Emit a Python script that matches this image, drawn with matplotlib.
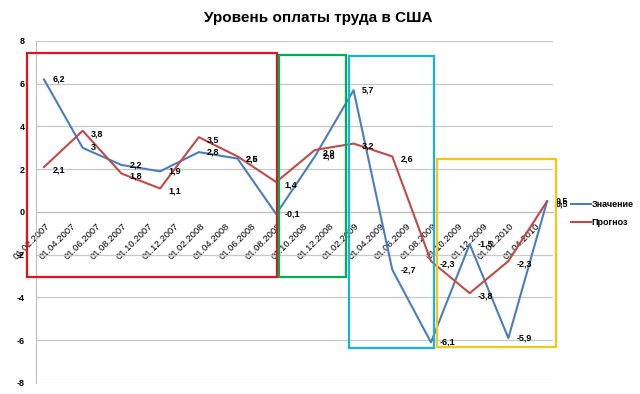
import matplotlib
matplotlib.use("Agg")
import matplotlib.pyplot as plt
from matplotlib.patches import Rectangle
from matplotlib.transforms import ScaledTranslation

plt.rcParams['font.family'] = ['Liberation Sans', 'DejaVu Sans']

title = "Уровень оплаты труда в США"
series_names = ["Значение", "Прогноз"]
# observation dates (quarterly)
dates = ["01.02.2007", "01.05.2007", "01.08.2007", "01.11.2007",
         "01.02.2008", "01.05.2008", "01.08.2008", "01.11.2008",
         "01.02.2009", "01.05.2009", "01.08.2009", "01.11.2009",
         "01.02.2010", "01.05.2010"]
values = [6.2, 3, 2.2, 1.9, 2.8, 2.5, -0.1, 2.6, 5.7, -2.7, -6.1, -1.5, -5.9, 0.5]
forecast = [2.1, 3.8, 1.8, 1.1, 3.5, 2.6, 1.4, 2.9, 3.2, 2.6, -2.3, -3.8, -2.3, 0.5]
tick_labels = ["01.02.2007", "01.04.2007", "01.06.2007", "01.08.2007", "01.10.2007",
               "01.12.2007", "01.02.2008", "01.04.2008", "01.06.2008", "01.08.2008",
               "01.10.2008", "01.12.2008", "01.02.2009", "01.04.2009", "01.06.2009",
               "01.08.2009", "01.10.2009", "01.12.2009", "01.02.2010", "01.04.2010"]
y_ticks = [-8, -6, -4, -2, 0, 2, 4, 6, 8]
# highlight boxes: (month offset x0, x1, y0, y1, colour)
boxes_x0 = [-1.32, 18.22, 23.64, 30.47]
boxes_x1 = [18.06, 23.41, 30.23, 39.69]
boxes_y0 = [-3.04, -3.04, -6.36, -6.32]
boxes_y1 = [7.44, 7.35, 7.30, 2.48]
boxes_c = ["#E0141E", "#00B050", "#1BB0E0", "#F5C518"]


def month_index(s):
    d, m, y = s.split(".")
    return (int(y) - 2007) * 12 + int(m) - 2


x = [month_index(d) for d in dates]
xt = [month_index(d) for d in tick_labels]

fig = plt.figure(figsize=(6.4, 3.94), dpi=100)
ax = fig.add_axes([0.05625, 0.028, 0.8078, 0.868])
ax.set_xlim(-0.62, 39.46)
ax.set_ylim(-8, 8)

blue = "#4A7EBB"
red = "#BE4B48"
ax.plot(x, values, color=blue, lw=1.5, label=series_names[0], zorder=3)
ax.plot(x, forecast, color=red, lw=1.5, label=series_names[1], zorder=3)

for xi, v in zip(x, values):
    ax.annotate(f"{v:g}".replace(".", ","), (xi, v), xytext=(6, 0), textcoords="offset points",
                fontsize=6.5, fontweight="bold", va="center", ha="left", zorder=4)
for xi, v in zip(x, forecast):
    ax.annotate(f"{v:g}".replace(".", ","), (xi, v), xytext=(6, -2), textcoords="offset points",
                fontsize=6.5, fontweight="bold", va="center", ha="left", zorder=4)

ax.set_yticks(y_ticks)
ax.set_yticklabels([str(t) for t in y_ticks], fontsize=6.5, fontweight="bold")
ax.yaxis.grid(True, color="#C8C8C8", lw=0.9)
ax.set_axisbelow(True)
ax.tick_params(axis="y", length=0, pad=8)

ax.spines["bottom"].set_position(("data", 0))
ax.spines["bottom"].set_color("#BEBEBE")
ax.spines["left"].set_color("#BEBEBE")
ax.spines["top"].set_visible(False)
ax.spines["right"].set_visible(False)
ax.set_xticks(xt)
ax.set_xticklabels(tick_labels, rotation=45, ha="right", rotation_mode="anchor",
                   fontsize=6.8)
ax.tick_params(axis="x", length=0, pad=7)
shift = ScaledTranslation(1 / 100, 0, fig.dpi_scale_trans)
for lab in ax.get_xticklabels():
    lab.set_transform(lab.get_transform() + shift)

for x0, x1, y0, y1, c in zip(boxes_x0, boxes_x1, boxes_y0, boxes_y1, boxes_c):
    ax.add_patch(Rectangle((x0, y0), x1 - x0, y1 - y0, fill=False, edgecolor=c,
                           lw=1.6, clip_on=False, zorder=5))

fig.text(0.498, 0.954, title, ha="center", va="center", fontsize=11, fontweight="bold")

leg = ax.legend(loc="center left", bbox_to_anchor=(1.019, 0.495), frameon=False,
                fontsize=6.5, handlelength=2.2, handletextpad=0.1, labelspacing=1.0)
for t in leg.get_texts():
    t.set_fontweight("bold")

fig.savefig("out.png", dpi=100)
